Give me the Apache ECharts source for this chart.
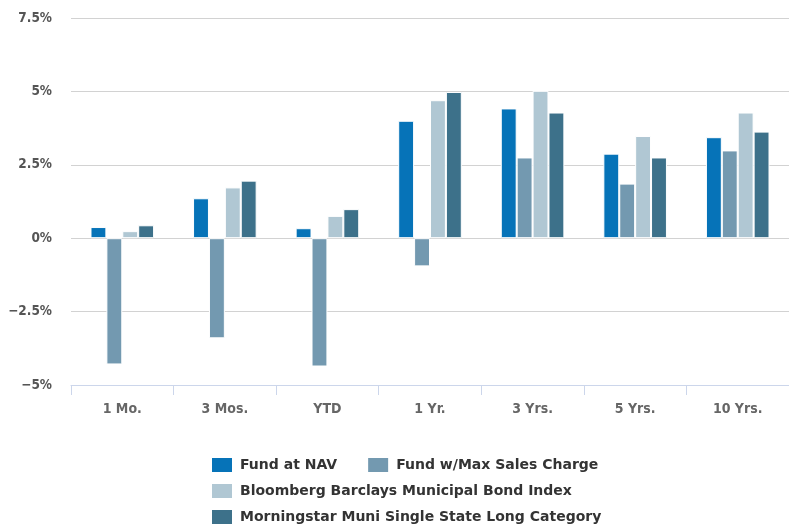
<!DOCTYPE html>
<html><head><meta charset="utf-8">
<script src="https://cdn.jsdelivr.net/npm/echarts@6/dist/echarts.min.js"></script>
<style>html,body{margin:0;padding:0;background:#fff}#c{width:789px;height:529px}</style>
</head><body><div id="c"></div>
<script>
var categories = ['1 Mo.', '3 Mos.', 'YTD', '1 Yr.', '3 Yrs.', '5 Yrs.', '10 Yrs.'];
var seriesNames = ['Fund at NAV', 'Fund w/Max Sales Charge', 'Bloomberg Barclays Municipal Bond Index', 'Morningstar Muni Single State Long Category'];
var fundNav = [0.38, 1.36, 0.34, 4.00, 4.42, 2.88, 3.44];
var fundMax = [-4.30, -3.41, -4.37, -0.96, 2.75, 1.86, 2.99];
var bbIndex = [0.24, 1.73, 0.76, 4.70, 5.02, 3.48, 4.28];
var msCategory = [0.44, 1.96, 0.99, 4.98, 4.28, 2.75, 3.63];
var yTicks = { min: -5, max: 7.5, interval: 2.5 };
var colors = ['#0673b8', '#7399b0', '#b0c7d3', '#3d718a'];

var values = [fundNav, fundMax, bbIndex, msCategory];
var chart = echarts.init(document.getElementById('c'), null, {renderer: 'canvas'});
var legendText = {fontFamily: 'DejaVu Sans', fontWeight: 'bold', fontSize: 14, color: '#333', padding: [0, 0, 0, 2]};
function legend(names, top) {
  return {data: names, left: 210, top: top, itemWidth: 22, itemHeight: 16, itemGap: 29,
    icon: 'rect', textStyle: legendText, padding: [0, 0, 0, 0], selectedMode: false};
}
chart.setOption({
  animation: false,
  color: colors,
  grid: {left: 71, top: 18, width: 723, height: 367},
  legend: [
    legend([seriesNames[0], seriesNames[1]], 456),
    legend([seriesNames[2]], 482),
    legend([seriesNames[3]], 508)
  ],
  xAxis: {
    type: 'category', data: categories,
    axisLine: {onZero: false, lineStyle: {color: '#ccd6eb', width: 1}},
    axisTick: {show: true, length: 10, lineStyle: {color: '#ccd6eb'}},
    axisLabel: {color: '#666', fontFamily: 'DejaVu Sans Condensed', fontWeight: 'bold', fontSize: 14, margin: 17},
    splitLine: {show: false}
  },
  yAxis: {
    type: 'value', min: yTicks.min, max: yTicks.max, interval: yTicks.interval,
    axisLine: {show: false}, axisTick: {show: false},
    axisLabel: {color: '#555', fontFamily: 'DejaVu Sans Condensed', fontWeight: 'bold', fontSize: 13.5, margin: 19,
      formatter: function (v) { return String(v).replace('-', '\u2212') + '%'; }},
    splitLine: {lineStyle: {color: '#d2d2d2', width: 1}}
  },
  series: seriesNames.map(function (n, i) {
    return {name: n, type: 'bar', data: values[i], barGap: '0%', barCategoryGap: '38%',
      itemStyle: {color: colors[i], borderColor: '#fff', borderWidth: 1}};
  })
});
</script></body></html>
